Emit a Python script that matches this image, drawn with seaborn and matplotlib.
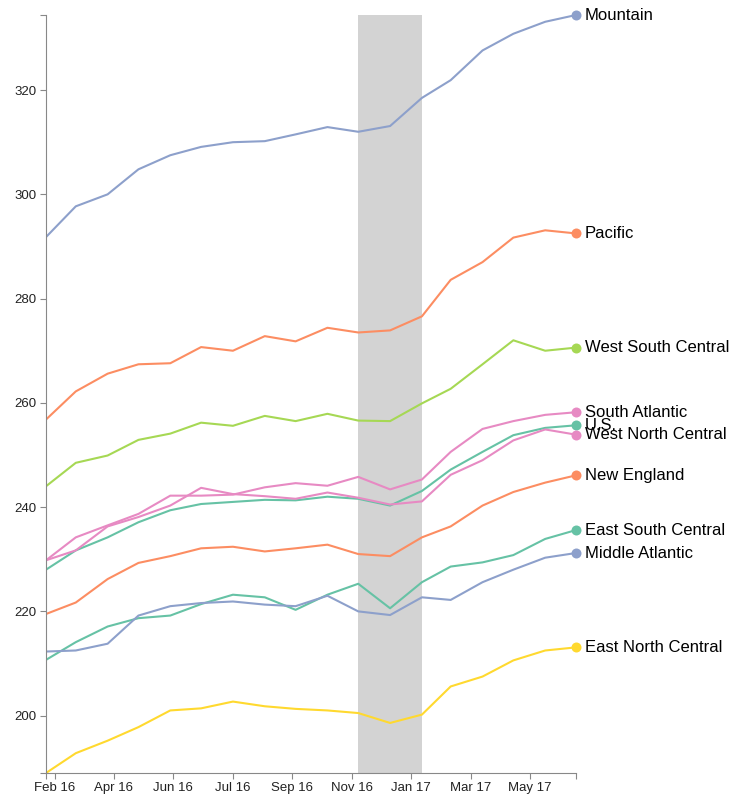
import matplotlib
matplotlib.use("Agg")
import matplotlib.pyplot as plt
import matplotlib.dates as mdates
import seaborn as sns
import pandas as pd
import numpy as np

# ---------------- data ----------------
months = ["2016-02-01", "2016-03-01", "2016-04-01", "2016-05-01", "2016-06-01", "2016-07-01",
          "2016-08-01", "2016-09-01", "2016-10-01", "2016-11-01", "2016-12-01", "2017-01-01",
          "2017-02-01", "2017-03-01", "2017-04-01", "2017-05-01", "2017-06-01", "2017-07-01"]

mountain = [291.8, 297.7, 300.0, 304.8, 307.5, 309.1, 310.0, 310.2, 311.5, 312.9, 312.0, 313.1,
            318.5, 321.9, 327.6, 330.8, 333.1, 334.4]
pacific = [256.8, 262.2, 265.6, 267.4, 267.6, 270.7, 270.0, 272.8, 271.8, 274.4, 273.5, 273.9,
           276.6, 283.6, 287.0, 291.7, 293.1, 292.5]
west_south_central = [244.0, 248.5, 249.9, 252.9, 254.1, 256.2, 255.6, 257.5, 256.5, 257.9, 256.6, 256.5,
                      259.9, 262.7, 267.4, 272.0, 270.0, 270.6]
south_atlantic = [229.8, 234.2, 236.5, 238.7, 242.2, 242.2, 242.4, 243.8, 244.6, 244.1, 245.8, 243.4,
                  245.3, 250.6, 255.0, 256.5, 257.7, 258.2]
us = [228.0, 231.7, 234.2, 237.1, 239.4, 240.6, 241.0, 241.4, 241.3, 242.0, 241.6, 240.3,
      243.1, 247.2, 250.6, 253.8, 255.2, 255.7]
west_north_central = [229.8, 231.7, 236.3, 238.1, 240.3, 243.7, 242.5, 242.1, 241.6, 242.8, 241.8, 240.5,
                      241.1, 246.2, 249.0, 252.8, 254.9, 253.9]
new_england = [219.5, 221.7, 226.2, 229.3, 230.6, 232.1, 232.4, 231.5, 232.1, 232.8, 231.0, 230.6,
               234.2, 236.3, 240.3, 242.9, 244.7, 246.1]
east_south_central = [210.7, 214.1, 217.1, 218.7, 219.2, 221.4, 223.2, 222.7, 220.3, 223.2, 225.3, 220.6,
                      225.6, 228.6, 229.4, 230.8, 233.9, 235.6]
middle_atlantic = [212.3, 212.5, 213.8, 219.2, 221.0, 221.6, 221.9, 221.3, 221.0, 223.0, 220.0, 219.3,
                   222.7, 222.2, 225.6, 228.0, 230.3, 231.2]
east_north_central = [189.0, 192.8, 195.2, 197.8, 201.0, 201.4, 202.7, 201.8, 201.3, 201.0, 200.5, 198.6,
                      200.2, 205.6, 207.5, 210.6, 212.5, 213.1]

series_names = ["Mountain", "Pacific", "West South Central", "South Atlantic", "U.S.",
                "West North Central", "New England", "East South Central", "Middle Atlantic",
                "East North Central"]
series_values = [mountain, pacific, west_south_central, south_atlantic, us,
                 west_north_central, new_england, east_south_central, middle_atlantic,
                 east_north_central]
series_colors = ["#8da0cb", "#fc8d62", "#a6d854", "#e78ac3", "#66c2a5",
                 "#e78ac3", "#fc8d62", "#66c2a5", "#8da0cb", "#ffd92f"]

band_start, band_end = "2016-12-01", "2017-02-01"
tick_step_ms = 5e9  # linear time scale ticks every 5e9 ms

# ---------------- frame ----------------
dates = pd.to_datetime(months)
rows = []
for name, vals in zip(series_names, series_values):
    for d, v in zip(dates, vals):
        rows.append({"date": d, "value": v, "region": name})
df = pd.DataFrame(rows)
palette = dict(zip(series_names, series_colors))

sns.set_style("white")
plt.rcParams["font.family"] = ["Liberation Sans", "DejaVu Sans"]

W, H = 731, 799
fig = plt.figure(figsize=(W / 100, H / 100), dpi=100)
ax = fig.add_axes([46 / W, 1 - 773 / H, 530 / W, 758 / H])

ax.axvspan(pd.Timestamp(band_start), pd.Timestamp(band_end), color="#d3d3d3", zorder=0, lw=0)

sns.lineplot(data=df, x="date", y="value", hue="region", palette=palette,
             hue_order=series_names, legend=False, ax=ax, linewidth=1.5, zorder=2)

for name, vals, c in zip(series_names, series_values, series_colors):
    ax.plot([dates[-1]], [vals[-1]], "o", ms=7.2, color=c, mec="none", zorder=3, clip_on=False)
    ax.annotate(name, (dates[-1], vals[-1]), xytext=(6.5, 0), textcoords="offset points",
                va="center", ha="left", fontsize=12, color="#000000", annotation_clip=False)

all_vals = np.concatenate([np.array(v) for v in series_values])
ax.set_xlim(dates[0], dates[-1])
ax.set_ylim(all_vals.min(), all_vals.max())

# x ticks: multiples of 5e9 ms
t0 = dates[0].value / 1e6
t1 = dates[-1].value / 1e6
k0 = int(np.ceil(t0 / tick_step_ms))
k1 = int(np.floor(t1 / tick_step_ms))
xt = [pd.Timestamp(k * tick_step_ms, unit="ms") for k in range(k0, k1 + 1)]
ax.set_xticks(xt)
ax.xaxis.set_major_formatter(mdates.DateFormatter("%b %y"))
ax.set_xticks([dates[0], dates[-1]], minor=True)

ax.set_yticks([200, 220, 240, 260, 280, 300, 320])
ax.set_yticks([all_vals.min(), all_vals.max()], minor=True)

for s in ["top", "right"]:
    ax.spines[s].set_visible(False)
for s in ["left", "bottom"]:
    ax.spines[s].set_color("#888888")
    ax.spines[s].set_linewidth(0.8)

ax.tick_params(axis="both", which="both", length=4.3, width=0.8, color="#888888",
               labelsize=9.5, labelcolor="#222222", pad=2.5)
ax.tick_params(axis="x", which="both", direction="out", bottom=True)
ax.tick_params(axis="y", which="both", direction="out", left=True)
ax.set_xlabel("")
ax.set_ylabel("")
ax.grid(False)

fig.savefig("out.png", dpi=100)
